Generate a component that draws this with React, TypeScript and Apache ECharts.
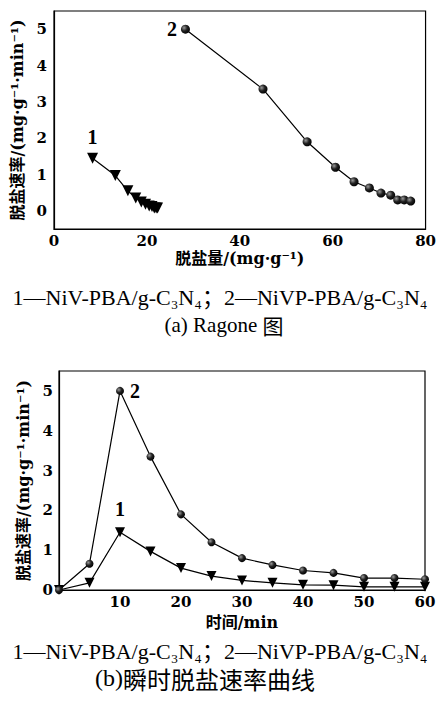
import React, { useEffect, useRef } from "react";
import * as echarts from "echarts";

// Time axis (min) for the instantaneous-rate curves
const timeMin = [0, 5, 10, 15, 20, 25, 30, 35, 40, 45, 50, 55, 60];
// Instantaneous desalination rate (mg·g⁻¹·min⁻¹)
const rate1 = [0, 0.18, 1.45, 0.97, 0.55, 0.35, 0.24, 0.18, 0.13, 0.12, 0.08, 0.08, 0.08];
const rate2 = [0, 0.66, 5.0, 3.35, 1.9, 1.2, 0.8, 0.63, 0.49, 0.43, 0.3, 0.3, 0.27];
// Ragone: desalination capacity (mg·g⁻¹) for t = 10..60 min
const capacity1 = [8.3, 13.2, 15.9, 17.6, 18.8, 19.7, 20.5, 21.1, 21.6, 22.0, 22.3];
const capacity2 = [28.3, 45.0, 54.5, 60.6, 64.6, 67.9, 70.4, 72.5, 74.0, 75.4, 76.8];
// Tick values
const ragoneXTicks = [0, 20, 40, 60, 80];
const rateYTicks = [0, 1, 2, 3, 4, 5];
const timeXTicks = [10, 20, 30, 40, 50, 60];

const seriesNames = ["NiV-PBA/g-C₃N₄", "NiVP-PBA/g-C₃N₄"];
const legendText = "1—NiV-PBA/g-C₃N₄；2—NiVP-PBA/g-C₃N₄";
const captionALatin = "(a) Ragone ";
const captionACjk = "图";
const captionBLatin = "(b)";
const captionBCjk = "瞬时脱盐速率曲线";
const yTitle = "脱盐速率/(mg·g⁻¹·min⁻¹)";
const xTitleA = "脱盐量/(mg·g⁻¹)";
const xTitleB = "时间/min";

const SERIF = '"Liberation Serif", "Noto Sans CJK SC", serif';
const LATIN = '"Liberation Serif", serif';
const CJK = '"Noto Sans CJK SC", sans-serif';
const WIDE = '"DejaVu Serif", "Noto Sans CJK SC", serif';

export default function App() {
  const ref = useRef<HTMLDivElement>(null);
  useEffect(() => {
    if (!ref.current) return;
    const chart = echarts.init(ref.current, undefined, { renderer: "svg" });
    const sphere = new echarts.graphic.RadialGradient(0.35, 0.35, 0.7, [
      { offset: 0, color: "#9a9a9a" },
      { offset: 0.5, color: "#222" },
      { offset: 1, color: "#000" },
    ]);
    const tickLabel = {
      color: "#000",
      fontFamily: WIDE,
      fontSize: 15,
      fontWeight: "bold" as const,
    };
    const nameStyle = {
      color: "#000",
      fontFamily: WIDE,
      fontSize: 16,
      fontWeight: "bold" as const,
    };
    const axisLine = { show: true, onZero: false, lineStyle: { color: "#000", width: 1.2 } };
    const labelFirst = (arr: number[], xs: number[], label: any) =>
      xs.map((x, i) => (i === 0 ? { value: [x, arr[i]], label } : [x, arr[i]]));

    const r1 = rate1.slice(2);
    const r2 = rate2.slice(2);

    const numLabel = {
      show: true,
      color: "#000",
      fontFamily: SERIF,
      fontSize: 20,
      fontWeight: "bold",
    };

    const caption = (x: number, y: number, text: string, size: number) => ({
      type: "text",
      x,
      y,
      style: {
        text,
        fill: "#000",
        fontFamily: SERIF,
        fontSize: size,
        textAlign: "center",
        textVerticalAlign: "middle",
      },
    });
    const richCaption = (x: number, y: number, latin: string, cjk: string, size: number) => ({
      type: "text",
      x,
      y,
      style: {
        text: `{l|${latin}}{c|${cjk}}`,
        fill: "#000",
        textAlign: "center",
        textVerticalAlign: "middle",
        rich: {
          l: { fontFamily: LATIN, fontSize: size, fill: "#000" },
          c: { fontFamily: CJK, fontSize: size, fill: "#000" },
        },
      },
    });

    chart.setOption({
      animation: false,
      backgroundColor: "#fff",
      grid: [
        { left: 54, top: 11, right: 11, height: 218, show: true, borderColor: "#000", borderWidth: 1.2, backgroundColor: "transparent" },
        { left: 59, top: 371, right: 14, height: 219, show: true, borderColor: "#000", borderWidth: 1.2, backgroundColor: "transparent" },
      ],
      xAxis: [
        {
          type: "value", gridIndex: 0, min: 0, max: 80, interval: 20,
          axisLine, axisTick: { show: false }, splitLine: { show: false },
          axisLabel: { ...tickLabel, margin: 4, formatter: (v: number) => (ragoneXTicks.includes(v) ? String(v) : "") },
          name: xTitleA, nameLocation: "middle", nameGap: 21, nameTextStyle: nameStyle,
        },
        {
          type: "value", gridIndex: 1, min: 0, max: 60, interval: 10,
          axisLine, axisTick: { show: false }, splitLine: { show: false },
          axisLabel: { ...tickLabel, margin: 4, formatter: (v: number) => (timeXTicks.includes(v) ? String(v) : "") },
          name: xTitleB, nameLocation: "middle", nameGap: 24, nameTextStyle: nameStyle,
        },
      ],
      yAxis: [
        {
          type: "value", gridIndex: 0, min: -0.5, max: 5.5, interval: 0.5,
          axisLine, axisTick: { show: false }, splitLine: { show: false },
          axisLabel: { ...tickLabel, margin: 7, formatter: (v: number) => (rateYTicks.includes(v) ? String(v) : "") },
          name: yTitle, nameLocation: "middle", nameGap: 26, nameTextStyle: nameStyle,
        },
        {
          type: "value", gridIndex: 1, min: 0, max: 5.5, interval: 0.5,
          axisLine, axisTick: { show: false }, splitLine: { show: false },
          axisLabel: { ...tickLabel, margin: 6, formatter: (v: number) => (rateYTicks.includes(v) ? String(v) : "") },
          name: yTitle, nameLocation: "middle", nameGap: 27, nameTextStyle: nameStyle,
        },
      ],
      series: [
        {
          name: seriesNames[0], type: "line", xAxisIndex: 0, yAxisIndex: 0,
          data: labelFirst(r1, capacity1, { ...numLabel, formatter: "1", position: "top", distance: 6 }),
          symbol: "triangle", symbolRotate: 180, symbolSize: 11,
          itemStyle: { color: "#000" }, lineStyle: { color: "#000", width: 1.2 },
        },
        {
          name: seriesNames[1], type: "line", xAxisIndex: 0, yAxisIndex: 0,
          data: labelFirst(r2, capacity2, { ...numLabel, formatter: "2", position: "left", distance: 4 }),
          symbol: "circle", symbolSize: 9,
          itemStyle: { color: sphere }, lineStyle: { color: "#000", width: 1.2 },
        },
        {
          name: seriesNames[0], type: "line", xAxisIndex: 1, yAxisIndex: 1,
          data: timeMin.map((t, i) => (t === 10 ? { value: [t, rate1[i]], label: { ...numLabel, formatter: "1", position: "top", distance: 8 } } : [t, rate1[i]])),
          symbol: "triangle", symbolRotate: 180, symbolSize: 10,
          itemStyle: { color: "#000" }, lineStyle: { color: "#000", width: 1.2 },
        },
        {
          name: seriesNames[1], type: "line", xAxisIndex: 1, yAxisIndex: 1,
          data: timeMin.map((t, i) => (t === 10 ? { value: [t, rate2[i]], label: { ...numLabel, formatter: "2", position: "right", distance: 6 } } : [t, rate2[i]])),
          symbol: "circle", symbolSize: 8,
          itemStyle: { color: sphere }, lineStyle: { color: "#000", width: 1.2 },
        },
      ],
      graphic: [
        caption(220, 297, legendText, 22),
        richCaption(224, 325, captionALatin, captionACjk, 21),
        caption(220, 651, legendText, 22),
        richCaption(205, 678, captionBLatin, captionBCjk, 24),
      ],
    });
    return () => chart.dispose();
  }, []);
  return (
    <div
      ref={ref}
      style={{ position: "absolute", left: 0, top: 0, width: 439, height: 704 }}
    />
  );
}
